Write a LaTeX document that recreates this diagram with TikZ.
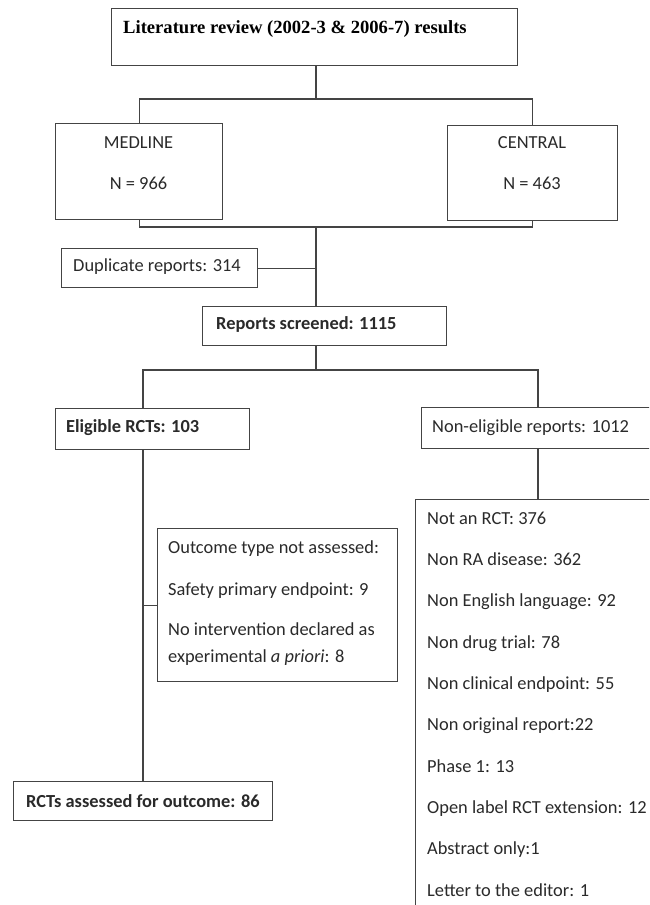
\documentclass[tikz,border=0pt]{standalone}
\usepackage{fontspec}
\setmainfont{Carlito}
\newfontfamily\titlefont{Liberation Serif}
\definecolor{linec}{HTML}{444444}
\definecolor{textc}{HTML}{2A2A2A}
\begin{document}
\begin{tikzpicture}[x=1pt,y=-1pt,
  box/.style={draw=linec, line width=1.1pt, inner sep=0pt, anchor=north west},
  conn/.style={draw=linec, line width=1.1pt},
  txt/.style={anchor=base west, inner sep=0pt, font=\fontsize{18.4}{22}\selectfont, text=textc},
  ctxt/.style={anchor=base, inner sep=0pt, font=\fontsize{18.4}{22}\selectfont, text=textc},
  btxt/.style={txt, font=\fontsize{18.4}{22}\selectfont\bfseries},
  ttxt/.style={anchor=base west, inner sep=0pt, font=\titlefont\fontsize{18.6}{22}\selectfont\bfseries, text=black}]
\useasboundingbox (0,0) rectangle (649,905);
\clip (0,0) rectangle (649,905);
\fill[white] (0,0) rectangle (649,905);

% boxes
\node[box, minimum width=406pt, minimum height=57pt] (top) at (111,8) {};
\node[box, minimum width=167pt, minimum height=96pt] (med) at (55,123) {};
\node[box, minimum width=170pt, minimum height=95pt] (cen) at (447,125) {};
\node[box, minimum width=196pt, minimum height=39pt] (dup) at (61,248) {};
\node[box, minimum width=244pt, minimum height=39pt] (scr) at (202,306) {};
\node[box, minimum width=194pt, minimum height=41pt] (elig) at (55,408) {};
\node[box, minimum width=234pt, minimum height=41pt] (nel) at (421,407) {};
\node[box, minimum width=240pt, minimum height=153pt] (out) at (157,528) {};
\node[box, minimum width=259pt, minimum height=39pt] (rct) at (13,781) {};
\node[box, minimum width=300pt, minimum height=450pt] (lst) at (415,499) {};

% texts
\node[ttxt] (ttop) at (123,33) {Literature review (2002-3 \& 2006-7) results};
\node[ctxt] (tmed1) at (138.5,148) {MEDLINE};
\node[ctxt] (tmed2) at (138.5,189) {N = 966};
\node[ctxt] (tcen1) at (532,148) {CENTRAL};
\node[ctxt] (tcen2) at (532,189) {N = 463};
\node[txt] (tdup) at (73,271) {Duplicate reports: 314};
\node[btxt] (tscr) at (216,329) {Reports screened: 1115};
\node[btxt] (telig) at (66,432) {Eligible RCTs: 103};
\node[txt] (tnel) at (432,432) {Non-eligible reports: 1012};
\node[btxt] (trct) at (26,807) {RCTs assessed for outcome: 86};
\node[txt] (to1) at (168,553) {Outcome type not assessed:};
\node[txt] (to2) at (168,595) {Safety primary endpoint: 9};
\node[txt] (to3) at (168,635) {No intervention declared as};
\node[txt] (to4) at (168,662) {experimental \textit{a priori}: 8};
\node[txt] (l1) at (427,524) {Not an RCT: 376};
\node[txt] (l2) at (427,565.3) {Non RA disease: 362};
\node[txt] (l3) at (427,606.7) {Non English language: 92};
\node[txt] (l4) at (427,648) {Non drug trial: 78};
\node[txt] (l5) at (427,689.3) {Non clinical endpoint: 55};
\node[txt] (l6) at (427,730.7) {Non original report:22};
\node[txt] (l7) at (427,772) {Phase 1: 13};
\node[txt] (l8) at (427,813.3) {Open label RCT extension: 12};
\node[txt] (l9) at (427,854.7) {Abstract only:1};
\node[txt] (l10) at (427,896) {Letter to the editor: 1};

% junctions
\coordinate (j1) at (316,99);
\coordinate (j2) at (316,227);
\coordinate (j3) at (316,370);
\coordinate (j4) at (143,370);
\coordinate (j5) at (538,370);

% connectors
\draw[conn] (top.south -| j1) -- (j1);
\draw[conn] (med.north) -- (med.north |- j1) -- (cen.north |- j1) -- (cen.north);
\draw[conn] (med.south) -- (med.south |- j2) -- (cen.south |- j2) -- (cen.south);
\draw[conn] (j2) -- (j2 |- scr.north);
\draw[conn] (dup.east) -- (dup.east -| j2);
\draw[conn] (j3 |- scr.south) -- (j3);
\draw[conn] (j4 |- elig.north) -- (j4) -- (j5) -- (j5 |- nel.north);
\draw[conn] (j4 |- elig.south) -- (j4 |- rct.north);
\draw[conn] (out.west) -- (out.west -| j4);
\draw[conn] (j5 |- nel.south) -- (j5 |- lst.north);
\end{tikzpicture}
\end{document}
